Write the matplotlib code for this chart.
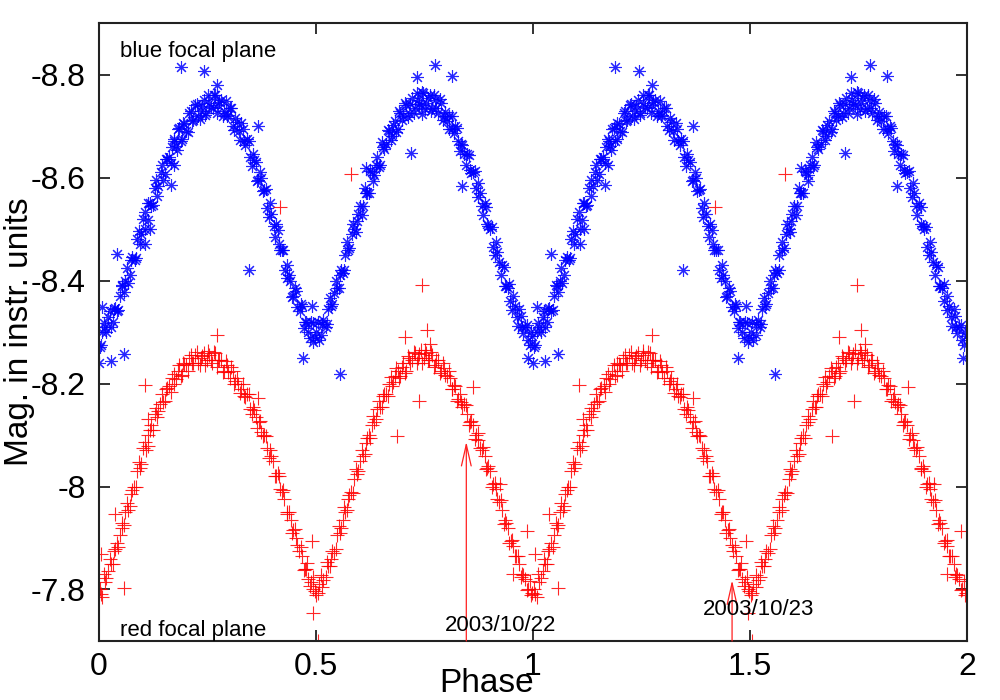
import matplotlib
matplotlib.use("Agg")
import matplotlib.pyplot as plt

plt.rcParams['font.family'] = ['Liberation Sans', 'DejaVu Sans']

# blue focal plane, one cycle (phase 0-1), drawn again at phase+1
blue_phase = [0.003, 0.009, 0.015, 0.023, 0.029, 0.036, 0.042, 0.049, 0.055, 0.062,
              0.068, 0.075, 0.083, 0.089, 0.095, 0.102, 0.108, 0.115, 0.122, 0.129,
              0.135, 0.143, 0.148, 0.155, 0.162, 0.169, 0.175, 0.183, 0.189, 0.195,
              0.202, 0.209, 0.215, 0.223, 0.229, 0.236, 0.242, 0.248, 0.255, 0.263,
              0.268, 0.275, 0.282, 0.289, 0.295, 0.302, 0.309, 0.315, 0.323, 0.329,
              0.335, 0.342, 0.349, 0.355, 0.362, 0.368, 0.375, 0.382, 0.389, 0.395,
              0.403, 0.409, 0.415, 0.422, 0.429, 0.435, 0.442, 0.448, 0.455, 0.463,
              0.469, 0.475, 0.482, 0.489, 0.495, 0.502, 0.508, 0.515, 0.523, 0.529,
              0.535, 0.542, 0.549, 0.555, 0.562, 0.568, 0.575, 0.583, 0.589, 0.595,
              0.602, 0.608, 0.615, 0.622, 0.629, 0.635, 0.642, 0.648, 0.655, 0.663,
              0.669, 0.675, 0.682, 0.689, 0.695, 0.702, 0.708, 0.715, 0.722, 0.729,
              0.735, 0.742, 0.748, 0.755, 0.763, 0.769, 0.775, 0.782, 0.789, 0.795,
              0.802, 0.808, 0.815, 0.822, 0.829, 0.835, 0.842, 0.849, 0.855, 0.862,
              0.869, 0.875, 0.882, 0.889, 0.895, 0.902, 0.909, 0.915, 0.922, 0.929,
              0.935, 0.942, 0.948, 0.955, 0.963, 0.969, 0.975, 0.982, 0.989, 0.995]
blue_mag = [-8.27, -8.30, -8.31, -8.33, -8.31, -8.345, -8.34, -8.37, -8.39, -8.40,
            -8.395, -8.44, -8.44, -8.48, -8.47, -8.52, -8.50, -8.55, -8.545, -8.58,
            -8.565, -8.61, -8.595, -8.635, -8.64, -8.66, -8.67, -8.695, -8.67, -8.705,
            -8.69, -8.725, -8.71, -8.74, -8.72, -8.73, -8.75, -8.725, -8.745, -8.735,
            -8.76, -8.74, -8.75, -8.73, -8.72, -8.735, -8.70, -8.715, -8.69, -8.705,
            -8.67, -8.675, -8.64, -8.645, -8.63, -8.595, -8.60, -8.575, -8.54, -8.55,
            -8.505, -8.51, -8.47, -8.46, -8.42, -8.43, -8.40, -8.37, -8.38, -8.34,
            -8.35, -8.32, -8.30, -8.32, -8.28, -8.30, -8.285, -8.315, -8.31, -8.345,
            -8.35, -8.375, -8.385, -8.41, -8.415, -8.45, -8.46, -8.49, -8.50, -8.515,
            -8.545, -8.545, -8.57, -8.57, -8.61, -8.605, -8.64, -8.625, -8.66, -8.665,
            -8.69, -8.68, -8.71, -8.695, -8.725, -8.72, -8.74, -8.725, -8.755, -8.735,
            -8.75, -8.74, -8.765, -8.745, -8.76, -8.735, -8.75, -8.725, -8.745, -8.72,
            -8.71, -8.72, -8.695, -8.70, -8.67, -8.665, -8.645, -8.645, -8.615, -8.61,
            -8.58, -8.59, -8.545, -8.55, -8.51, -8.50, -8.465, -8.475, -8.435, -8.43,
            -8.39, -8.385, -8.36, -8.37, -8.33, -8.345, -8.31, -8.31, -8.285, -8.30]
blue_phase2 = [0.006, 0.013, 0.018, 0.026, 0.033, 0.038, 0.046, 0.053, 0.058, 0.066,
               0.073, 0.078, 0.086, 0.093, 0.098, 0.106, 0.113, 0.118, 0.126, 0.133,
               0.138, 0.146, 0.153, 0.158, 0.166, 0.173, 0.178, 0.186, 0.193, 0.198,
               0.206, 0.213, 0.218, 0.226, 0.233, 0.238, 0.246, 0.253, 0.258, 0.266,
               0.273, 0.278, 0.286, 0.293, 0.298, 0.306, 0.313, 0.318, 0.326, 0.333,
               0.338, 0.346, 0.353, 0.358, 0.366, 0.373, 0.378, 0.386, 0.393, 0.398,
               0.406, 0.413, 0.418, 0.426, 0.433, 0.438, 0.446, 0.453, 0.458, 0.466,
               0.473, 0.478, 0.486, 0.493, 0.498, 0.506, 0.513, 0.518, 0.526, 0.533,
               0.538, 0.546, 0.553, 0.558, 0.566, 0.573, 0.578, 0.586, 0.593, 0.598,
               0.606, 0.613, 0.618, 0.626, 0.633, 0.638, 0.646, 0.653, 0.658, 0.666,
               0.673, 0.678, 0.686, 0.693, 0.698, 0.706, 0.713, 0.718, 0.726, 0.733,
               0.738, 0.746, 0.753, 0.758, 0.766, 0.773, 0.778, 0.786, 0.793, 0.798,
               0.806, 0.813, 0.818, 0.826, 0.833, 0.838, 0.846, 0.853, 0.858, 0.866,
               0.873, 0.878, 0.886, 0.893, 0.898, 0.906, 0.913, 0.918, 0.926, 0.933,
               0.938, 0.946, 0.953, 0.958, 0.966, 0.973, 0.978, 0.986, 0.993, 0.998]
blue_mag2 = [-8.275, -8.317, -8.30, -8.34, -8.319, -8.346, -8.342, -8.392, -8.378, -8.424,
             -8.41, -8.446, -8.443, -8.496, -8.49, -8.533, -8.517, -8.55, -8.546, -8.596,
             -8.584, -8.625, -8.606, -8.635, -8.629, -8.674, -8.661, -8.697, -8.675, -8.703,
             -8.689, -8.73, -8.712, -8.743, -8.714, -8.738, -8.721, -8.76, -8.737, -8.76,
             -8.725, -8.746, -8.719, -8.748, -8.721, -8.735, -8.693, -8.708, -8.672, -8.694,
             -8.663, -8.671, -8.623, -8.634, -8.593, -8.61, -8.574, -8.577, -8.523, -8.53,
             -8.484, -8.498, -8.46, -8.46, -8.405, -8.411, -8.368, -8.386, -8.349, -8.355,
             -8.308, -8.319, -8.288, -8.317, -8.29, -8.32, -8.295, -8.323, -8.316, -8.366,
             -8.354, -8.40, -8.385, -8.42, -8.42, -8.474, -8.463, -8.509, -8.495, -8.53,
             -8.527, -8.58, -8.569, -8.612, -8.593, -8.625, -8.62, -8.669, -8.655, -8.693,
             -8.672, -8.702, -8.688, -8.73, -8.712, -8.744, -8.717, -8.743, -8.726, -8.765,
             -8.743, -8.767, -8.734, -8.755, -8.729, -8.761, -8.735, -8.752, -8.711, -8.727,
             -8.694, -8.719, -8.687, -8.697, -8.651, -8.664, -8.624, -8.643, -8.609, -8.613,
             -8.562, -8.569, -8.527, -8.542, -8.505, -8.504, -8.45, -8.456, -8.411, -8.426,
             -8.39, -8.393, -8.342, -8.35, -8.311, -8.332, -8.298, -8.313, -8.274, -8.292]
blue_out_phase = [0.189, 0.244, 0.274, 0.368, 0.166, 0.173, 0.180, 0.776, 0.734, 0.815,
                  0.720, 0.838, 0.617, 0.746, 0.043, 0.009, 0.000, 0.028, 0.058, 0.118,
                  0.108, 0.346, 0.492, 0.472, 0.557, 0.990]
blue_out_mag = [-8.814, -8.806, -8.78, -8.70, -8.585, -8.624, -8.654, -8.818, -8.796, -8.798,
                -8.648, -8.583, -8.618, -8.724, -8.452, -8.349, -8.24, -8.243, -8.257, -8.50,
                -8.47, -8.42, -8.35, -8.25, -8.218, -8.25]

# red focal plane, one cycle
red_phase = [0.003, 0.009, 0.015, 0.023, 0.029, 0.035, 0.042, 0.049, 0.055, 0.062,
             0.069, 0.075, 0.082, 0.089, 0.095, 0.103, 0.109, 0.115, 0.122, 0.129,
             0.135, 0.142, 0.149, 0.155, 0.163, 0.169, 0.175, 0.182, 0.189, 0.195,
             0.202, 0.208, 0.215, 0.222, 0.229, 0.235, 0.243, 0.249, 0.255, 0.262,
             0.269, 0.275, 0.282, 0.288, 0.295, 0.302, 0.309, 0.315, 0.322, 0.329,
             0.335, 0.342, 0.349, 0.355, 0.362, 0.369, 0.375, 0.382, 0.389, 0.395,
             0.402, 0.409, 0.415, 0.422, 0.428, 0.435, 0.443, 0.449, 0.455, 0.462,
             0.469, 0.475, 0.482, 0.489, 0.495, 0.502, 0.508, 0.515, 0.523, 0.529,
             0.535, 0.542, 0.549, 0.555, 0.562, 0.568, 0.575, 0.582, 0.589, 0.595,
             0.602, 0.609, 0.615, 0.622, 0.629, 0.635, 0.642, 0.649, 0.655, 0.662,
             0.669, 0.675, 0.682, 0.689, 0.695, 0.702, 0.708, 0.715, 0.722, 0.729,
             0.735, 0.742, 0.749, 0.755, 0.762, 0.769, 0.775, 0.782, 0.788, 0.795,
             0.802, 0.809, 0.815, 0.822, 0.829, 0.835, 0.842, 0.849, 0.855, 0.862,
             0.869, 0.875, 0.882, 0.889, 0.895, 0.902, 0.909, 0.915, 0.922, 0.929,
             0.935, 0.942, 0.949, 0.955, 0.962, 0.969, 0.975, 0.982, 0.989, 0.995]
red_mag = [-7.80, -7.785, -7.815, -7.835, -7.85, -7.875, -7.89, -7.905, -7.92, -7.95,
           -7.955, -7.985, -8.00, -8.03, -8.035, -8.075, -8.07, -8.10, -8.12, -8.14,
           -8.135, -8.16, -8.165, -8.19, -8.195, -8.21, -8.20, -8.225, -8.215, -8.24,
           -8.235, -8.25, -8.24, -8.255, -8.24, -8.25, -8.26, -8.245, -8.255, -8.24,
           -8.26, -8.245, -8.245, -8.225, -8.235, -8.21, -8.225, -8.205, -8.20, -8.19,
           -8.175, -8.18, -8.15, -8.155, -8.135, -8.125, -8.105, -8.10, -8.075, -8.07,
           -8.05, -8.02, -8.02, -7.99, -7.975, -7.95, -7.935, -7.915, -7.90, -7.875,
           -7.865, -7.84, -7.82, -7.815, -7.80, -7.79, -7.81, -7.805, -7.825, -7.845,
           -7.86, -7.87, -7.905, -7.91, -7.935, -7.95, -7.975, -7.99, -8.015, -8.025,
           -8.05, -8.06, -8.085, -8.10, -8.12, -8.125, -8.15, -8.155, -8.175, -8.18,
           -8.20, -8.195, -8.215, -8.225, -8.215, -8.24, -8.225, -8.25, -8.245, -8.26,
           -8.25, -8.265, -8.25, -8.26, -8.245, -8.255, -8.235, -8.245, -8.225, -8.23,
           -8.215, -8.21, -8.19, -8.195, -8.17, -8.165, -8.16, -8.14, -8.125, -8.12,
           -8.10, -8.09, -8.07, -8.06, -8.035, -8.03, -8.005, -7.995, -7.97, -7.955,
           -7.935, -7.92, -7.895, -7.885, -7.865, -7.85, -7.83, -7.82, -7.80, -7.79]
red_phase2 = blue_phase2
red_mag2 = [-7.792, -7.83, -7.822, -7.859, -7.85, -7.879, -7.883, -7.929, -7.925, -7.967,
            -7.962, -7.993, -7.999, -8.047, -8.044, -8.086, -8.079, -8.109, -8.11, -8.152,
            -8.146, -8.18, -8.166, -8.191, -8.184, -8.219, -8.208, -8.235, -8.216, -8.237,
            -8.224, -8.255, -8.239, -8.261, -8.236, -8.254, -8.236, -8.263, -8.245, -8.261,
            -8.232, -8.245, -8.222, -8.243, -8.222, -8.233, -8.20, -8.211, -8.182, -8.199,
            -8.173, -8.179, -8.14, -8.148, -8.114, -8.127, -8.099, -8.099, -8.056, -8.059,
            -8.02, -8.027, -7.996, -7.993, -7.947, -7.95, -7.91, -7.917, -7.886, -7.883,
            -7.837, -7.84, -7.807, -7.824, -7.798, -7.794, -7.829, -7.818, -7.854, -7.846,
            -7.874, -7.878, -7.924, -7.92, -7.961, -7.954, -7.984, -7.988, -8.034, -8.03,
            -8.071, -8.064, -8.094, -8.095, -8.137, -8.131, -8.166, -8.154, -8.18, -8.175,
            -8.213, -8.202, -8.23, -8.211, -8.232, -8.221, -8.253, -8.239, -8.262, -8.24,
            -8.258, -8.24, -8.265, -8.246, -8.261, -8.232, -8.245, -8.22, -8.24, -8.217,
            -8.225, -8.189, -8.197, -8.166, -8.18, -8.154, -8.159, -8.12, -8.128, -8.093,
            -8.104, -8.075, -8.076, -8.034, -8.039, -8.00, -8.007, -7.976, -7.973, -7.927,
            -7.93, -7.89, -7.897, -7.866, -7.866, -7.824, -7.829, -7.799, -7.817, -7.793]
red_out_phase = [0.106, 0.115, 0.274, 0.368, 0.582, 0.419, 0.706, 0.746, 0.757, 0.764,
                 0.863, 0.739, 0.688, 0.925, 0.058, 0.005, 0.037, 0.492, 0.495, 0.506,
                 0.987, 0.955, 0.480]
red_out_mag = [-8.197, -8.132, -8.294, -8.171, -8.607, -8.542, -8.29, -8.392, -8.304, -8.277,
               -8.193, -8.167, -8.099, -8.005, -7.802, -7.868, -7.946, -7.894, -7.755, -7.70,
               -7.913, -7.831, -7.852]

# arrows marking the two nights
note_text = ['2003/10/22', '2003/10/23']
note_phase = [0.847, 1.459]
note_mag = [-8.087, -7.818]
note_text_xy = [(0.925, -7.72), (1.52, -7.75)]


def twice(vals):
    return list(vals) + [v + 1 for v in vals]


fig = plt.figure(figsize=(10, 7), dpi=100)
ax = fig.add_axes([0.0985, 0.0843, 0.8685, 0.8828])

bmk = (8, 2, 0)
for xs, ys in [(blue_phase, blue_mag), (blue_phase2, blue_mag2), (blue_out_phase, blue_out_mag)]:
    ax.plot(twice(xs), ys * 2, ls='none', marker=bmk, ms=9,
            mec='#0000ff', mew=0.8, alpha=0.85)
for xs, ys in [(red_phase, red_mag), (red_phase2, red_mag2), (red_out_phase, red_out_mag)]:
    ax.plot(twice(xs), ys * 2, ls='none', marker='+', ms=10,
            mec='#ff0000', mew=0.8, alpha=0.85)

for t, xp, yp, txy in zip(note_text, note_phase, note_mag, note_text_xy):
    ax.annotate('', xy=(xp, yp), xytext=(xp, -7.7),
                arrowprops=dict(arrowstyle='->,head_length=1.1,head_width=0.25',
                                color='#ff2020', lw=0.9, mutation_scale=14,
                                shrinkA=0, shrinkB=0))
    ax.text(txy[0], txy[1], t, fontsize=16, ha='center', va='baseline')

ax.text(0.05, -8.835, 'blue focal plane', fontsize=16, va='baseline')
ax.text(0.05, -7.71, 'red focal plane', fontsize=16, va='baseline')

ax.set_xlim(0, 2)
ax.set_ylim(-7.7, -8.9)
ax.set_xticks([0, 0.5, 1, 1.5, 2])
ax.set_xticklabels(['0', '0.5', '1', '1.5', '2'])
ax.set_yticks([-8.8, -8.6, -8.4, -8.2, -8.0, -7.8])
ax.set_yticklabels(['-8.8', '-8.6', '-8.4', '-8.2', '-8', '-7.8'])
ax.tick_params(direction='in', length=8, width=1.3, labelsize=23,
               top=True, right=True, color='#222222')
ax.tick_params(axis='x', pad=8)
ax.tick_params(axis='y', pad=9)
for s in ax.spines.values():
    s.set_linewidth(1.5)
    s.set_color('#222222')

ax.set_xlabel('Phase', fontsize=24)
ax.set_ylabel('Mag. in instr. units', fontsize=24)
ax.xaxis.set_label_coords(0.4465, -0.044)
ax.yaxis.set_label_coords(-0.073, 0.5)

fig.savefig('out.png', dpi=100)
